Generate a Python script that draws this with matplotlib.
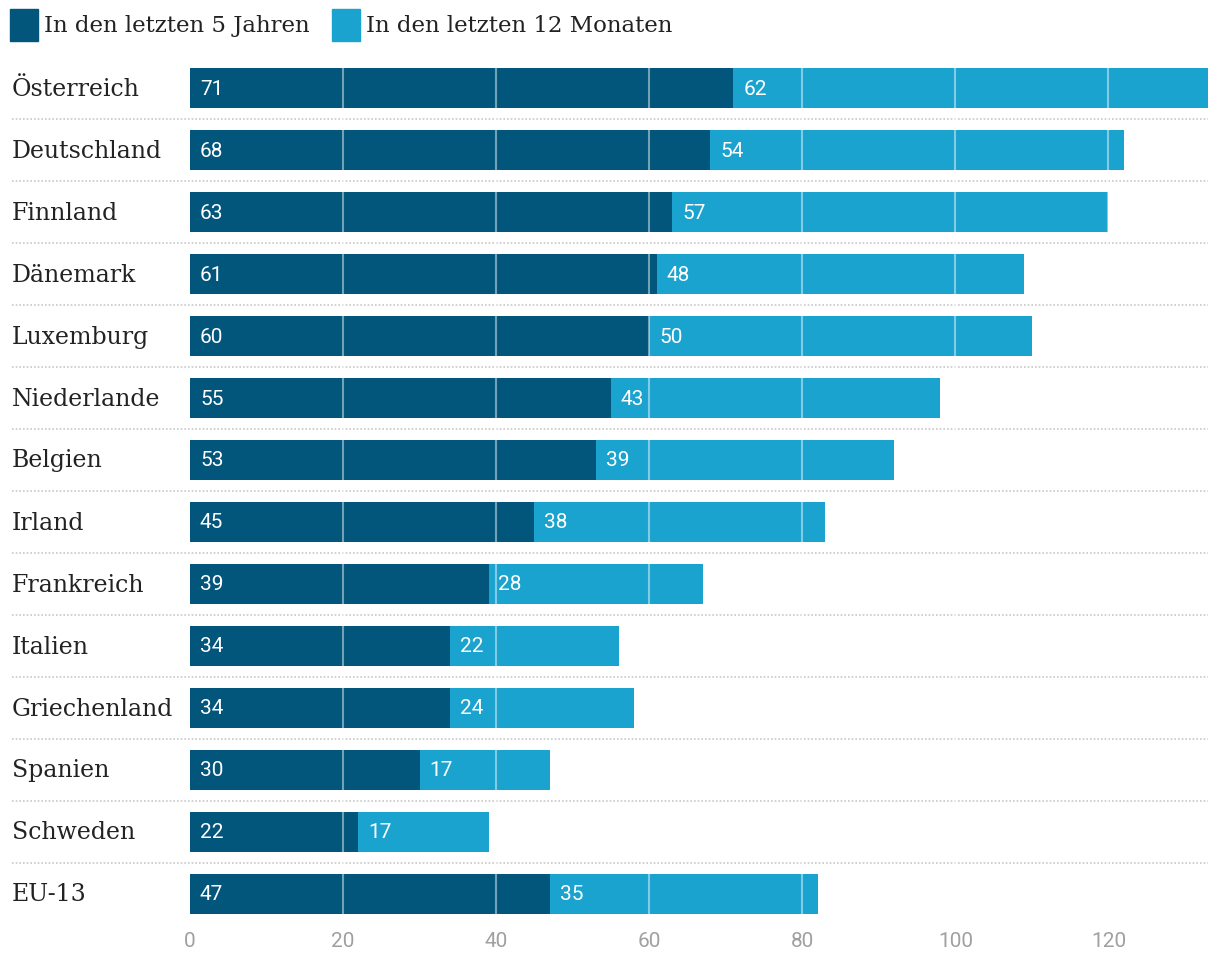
import matplotlib
matplotlib.use("Agg")
import matplotlib.pyplot as plt
from matplotlib.patches import Rectangle
from matplotlib.transforms import blended_transform_factory

countries = ["Österreich", "Deutschland", "Finnland", "Dänemark", "Luxemburg",
             "Niederlande", "Belgien", "Irland", "Frankreich", "Italien",
             "Griechenland", "Spanien", "Schweden", "EU-13"]
five_years = [71, 68, 63, 61, 60, 55, 53, 45, 39, 34, 34, 30, 22, 47]
twelve_months = [62, 54, 57, 48, 50, 43, 39, 38, 28, 22, 24, 17, 17, 35]
series_names = ["In den letzten 5 Jahren", "In den letzten 12 Monaten"]
xticks = [0, 20, 40, 60, 80, 100, 120]

DARK = "#02557b"
LIGHT = "#1ba3cf"
SERIF = ["DejaVu Serif"]
COND = ["DejaVu Sans Condensed", "Roboto", "DejaVu Sans"]

W, H = 1220, 962
fig = plt.figure(figsize=(W / 100, H / 100), dpi=100)
ax_left, ax_right = 190 / W, 1208 / W
ax_top, ax_bot = 58 / H, 926 / H
ax = fig.add_axes([ax_left, 1 - ax_bot, ax_right - ax_left, ax_bot - ax_top])

n = len(countries)
ys = list(range(n))
bh = 40 / 62
ax.barh(ys, five_years, height=bh, color=DARK, zorder=2)
ax.barh(ys, twelve_months, left=five_years, height=bh, color=LIGHT, zorder=2)

ax.set_xlim(0, 133)
ax.set_ylim(n - 0.5, -0.5)

for x in xticks[1:]:
    ax.axvline(x, color="white", alpha=0.45, lw=1.5, zorder=3)

for y, a, b in zip(ys, five_years, twelve_months):
    ax.text(1.3, y, str(a), color="white", fontsize=15, va="center", ha="left",
            family=COND, zorder=4)
    ax.text(a + 1.3, y, str(b), color="white", fontsize=15, va="center", ha="left",
            family=COND, zorder=4)

# row separators
tr = blended_transform_factory(fig.transFigure, ax.transData)
for i in range(n - 1):
    ax.plot([12 / W, 1208 / W], [i + 0.5, i + 0.5], transform=tr, color="#c8c8c8",
            lw=1.2, ls=(0, (1, 1.2)), clip_on=False, zorder=1)

# category labels
ax.set_yticks(ys)
ax.set_yticklabels([])
for y, c in zip(ys, countries):
    ax.text(12 / W, y, c, transform=tr, fontsize=17, family=SERIF, color="#222222",
            va="center", ha="left")

ax.set_xticks(xticks)
ax.set_xticklabels([str(t) for t in xticks], family=COND, fontsize=15, color="#a0a0a0")
ax.tick_params(axis="x", length=0, pad=4)
ax.tick_params(axis="y", length=0)
for s in ax.spines.values():
    s.set_visible(False)

# legend
leg_y = 1 - 26 / H
fig.patches.append(Rectangle((10 / W, 1 - 42 / H), 28 / W, 32 / H, transform=fig.transFigure,
                             color=DARK))
fig.text(44 / W, leg_y, series_names[0], fontsize=16.5, family=SERIF, color="#222222",
         va="center", ha="left")
fig.patches.append(Rectangle((332 / W, 1 - 42 / H), 28 / W, 32 / H, transform=fig.transFigure,
                             color=LIGHT))
fig.text(366 / W, leg_y, series_names[1], fontsize=16.5, family=SERIF, color="#222222",
         va="center", ha="left")

fig.savefig("out.png", dpi=100)
